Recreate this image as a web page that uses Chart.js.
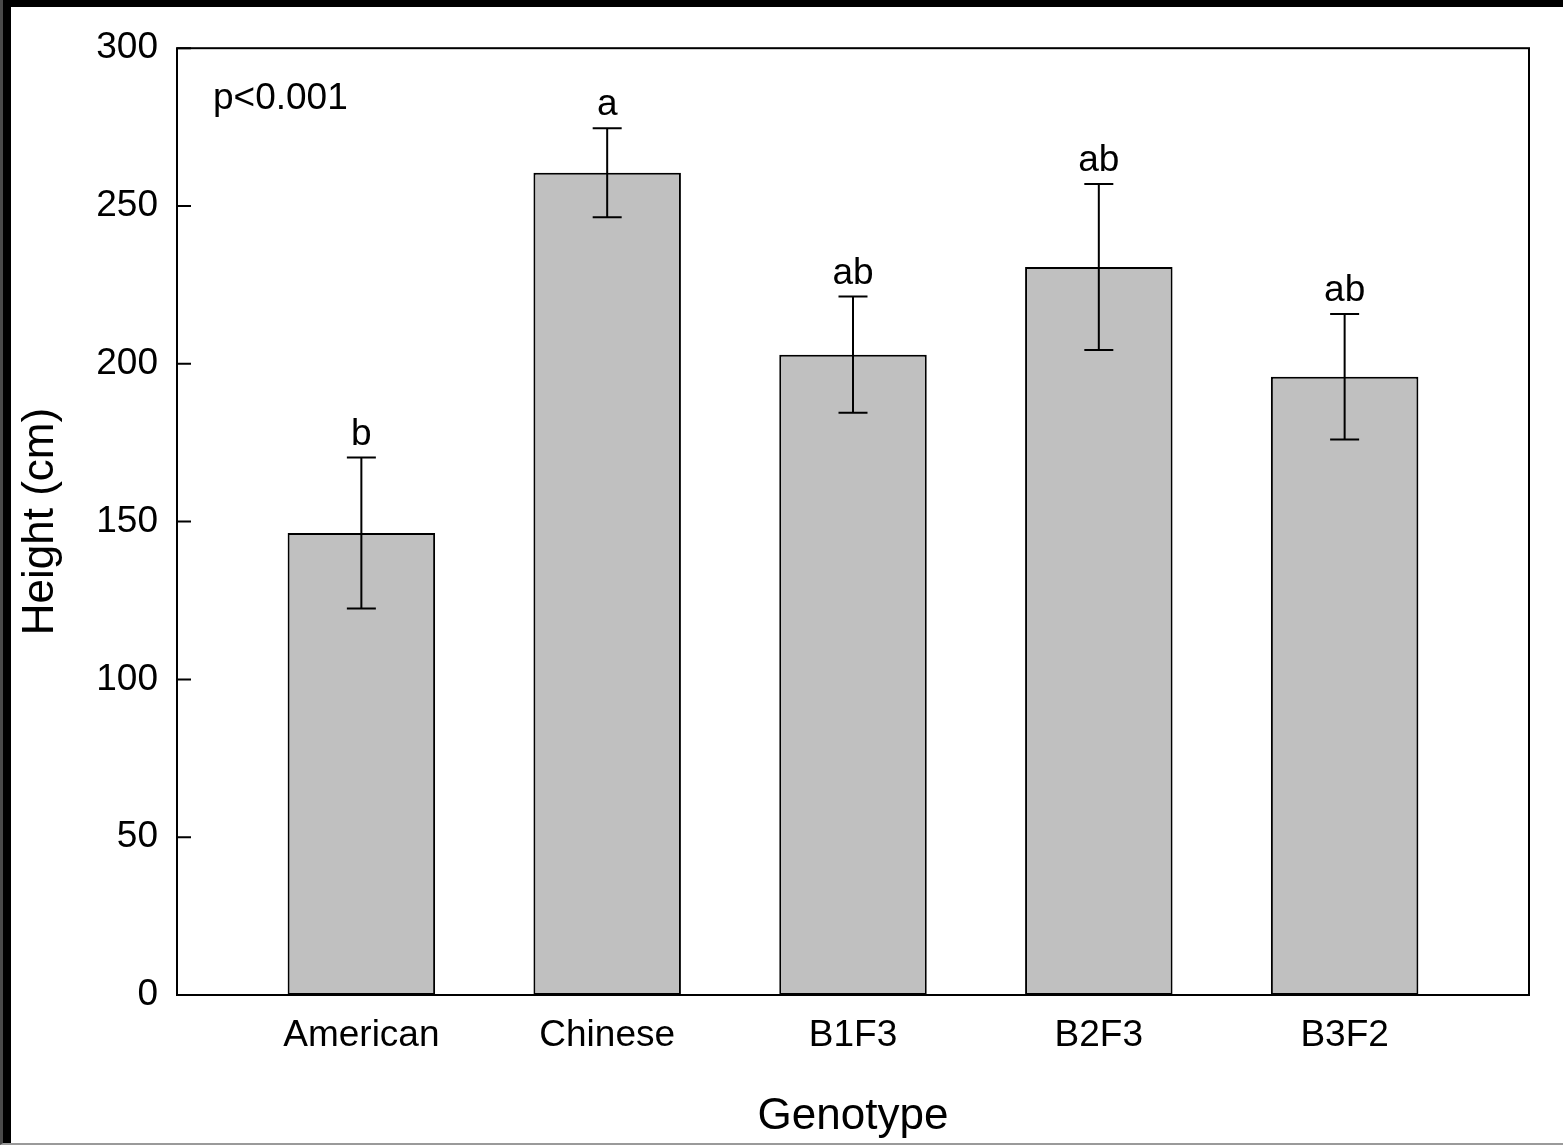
<!DOCTYPE html>
<html>
<head>
<meta charset="utf-8">
<script src="https://cdn.jsdelivr.net/npm/chart.js@4.4.1/dist/chart.umd.min.js"></script>
<style>
  html, body { margin: 0; padding: 0; background: #fff; }
  #outer {
    position: absolute; left: 0; top: 0; width: 1563px; height: 1145px;
    box-sizing: border-box; border-left: 3px solid #4a4a4a; border-bottom: 2px solid #9a9a9a;
  }
  #wrap {
    position: relative; width: 100%; height: 100%;
    box-sizing: border-box; border-left: 8px solid #000; border-top: 7px solid #000; background: #fff;
  }
</style>
</head>
<body>
<div id="outer"><div id="wrap"><canvas id="heightChart"></canvas></div></div>
<script>
const genotypes = ['American', 'Chinese', 'B1F3', 'B2F3', 'B3F2'];
const heights = [146.4, 260.5, 202.9, 230.7, 195.9];
const errors = [23.9, 14.1, 18.4, 26.3, 19.9];
const letters = ['b', 'a', 'ab', 'ab', 'ab'];
const yTicks = [0, 50, 100, 150, 200, 250, 300];
const pText = 'p<0.001';

const FONT = '"Liberation Sans", Arial, Helvetica, sans-serif';

// box round the plot, inward ticks on the left axis, error bars and letters
const decorations = {
    id: 'decorations',
    afterDatasetsDraw(chart) {
        const { ctx, chartArea, scales } = chart;
        const x = scales.x, y = scales.y;
        ctx.save();
        ctx.strokeStyle = '#000';
        ctx.lineWidth = 2;

        // error bars
        heights.forEach((h, i) => {
            const px = x.getPixelForValue(i);
            const top = y.getPixelForValue(h + errors[i]);
            const bot = y.getPixelForValue(h - errors[i]);
            ctx.beginPath();
            ctx.moveTo(px, top); ctx.lineTo(px, bot);
            ctx.moveTo(px - 14.5, top); ctx.lineTo(px + 14.5, top);
            ctx.moveTo(px - 14.5, bot); ctx.lineTo(px + 14.5, bot);
            ctx.stroke();

            ctx.fillStyle = '#000';
            ctx.font = '37px ' + FONT;
            ctx.textAlign = 'center';
            ctx.textBaseline = 'alphabetic';
            ctx.fillText(letters[i], px, top - 13);
        });

        // frame
        ctx.strokeRect(chartArea.left, chartArea.top, chartArea.right - chartArea.left, chartArea.bottom - chartArea.top);

        // inward ticks
        ctx.beginPath();
        yTicks.forEach(v => {
            const py = y.getPixelForValue(v);
            ctx.moveTo(chartArea.left, py);
            ctx.lineTo(chartArea.left + 14, py);
        });
        ctx.stroke();

        ctx.font = '37px ' + FONT;
        ctx.textAlign = 'left';
        ctx.textBaseline = 'alphabetic';
        ctx.fillText(pText, chartArea.left + 36, chartArea.top + 61);
        ctx.restore();
    }
};

const ctx = document.getElementById('heightChart');

const heightChart = new Chart(ctx, {
    type: 'bar',
    data: {
        datasets: [{
            label: 'Height',
            data: heights.map((h, i) => ({ x: i, y: h })),
            backgroundColor: '#c0c0c0',
            borderColor: '#000',
            borderWidth: 2,
            borderSkipped: false,
            categoryPercentage: 1,
            barPercentage: 0.6
        }]
    },
    options: {
        responsive: true,
        maintainAspectRatio: false,
        animation: false,
        layout: {
            padding: { top: 40, right: 34, left: 0, bottom: 0 }
        },
        scales: {
            x: {
                type: 'linear',
                min: -0.75,
                max: 4.75,
                offset: false,
                afterBuildTicks: (scale) => {
                    scale.ticks = genotypes.map((g, i) => ({ value: i }));
                },
                afterFit: (scale) => { scale.height = 148; },
                grid: { display: false, drawTicks: false, offset: false },
                border: { display: false },
                ticks: {
                    autoSkip: false,
                    maxRotation: 0,
                    padding: 19,
                    color: '#000',
                    font: { size: 37, family: FONT },
                    callback: (v) => genotypes[v]
                },
                title: {
                    display: true,
                    text: 'Genotype',
                    color: '#000',
                    font: { size: 44, family: FONT },
                    padding: { top: 0, bottom: 0 }
                }
            },
            y: {
                min: 0,
                max: 300,
                afterBuildTicks: (scale) => {
                    scale.ticks = yTicks.map(v => ({ value: v }));
                },
                afterFit: (scale) => { scale.width = 166; },
                grid: { display: false, drawTicks: false },
                border: { display: false },
                ticks: {
                    padding: 19,
                    color: '#000',
                    font: { size: 37, family: FONT }
                },
                title: {
                    display: true,
                    text: 'Height (cm)',
                    color: '#000',
                    font: { size: 44, family: FONT },
                    padding: { top: 3, bottom: 0 }
                }
            }
        },
        plugins: {
            legend: { display: false },
            tooltip: { enabled: false }
        }
    },
    plugins: [decorations]
});
</script>
</body>
</html>
